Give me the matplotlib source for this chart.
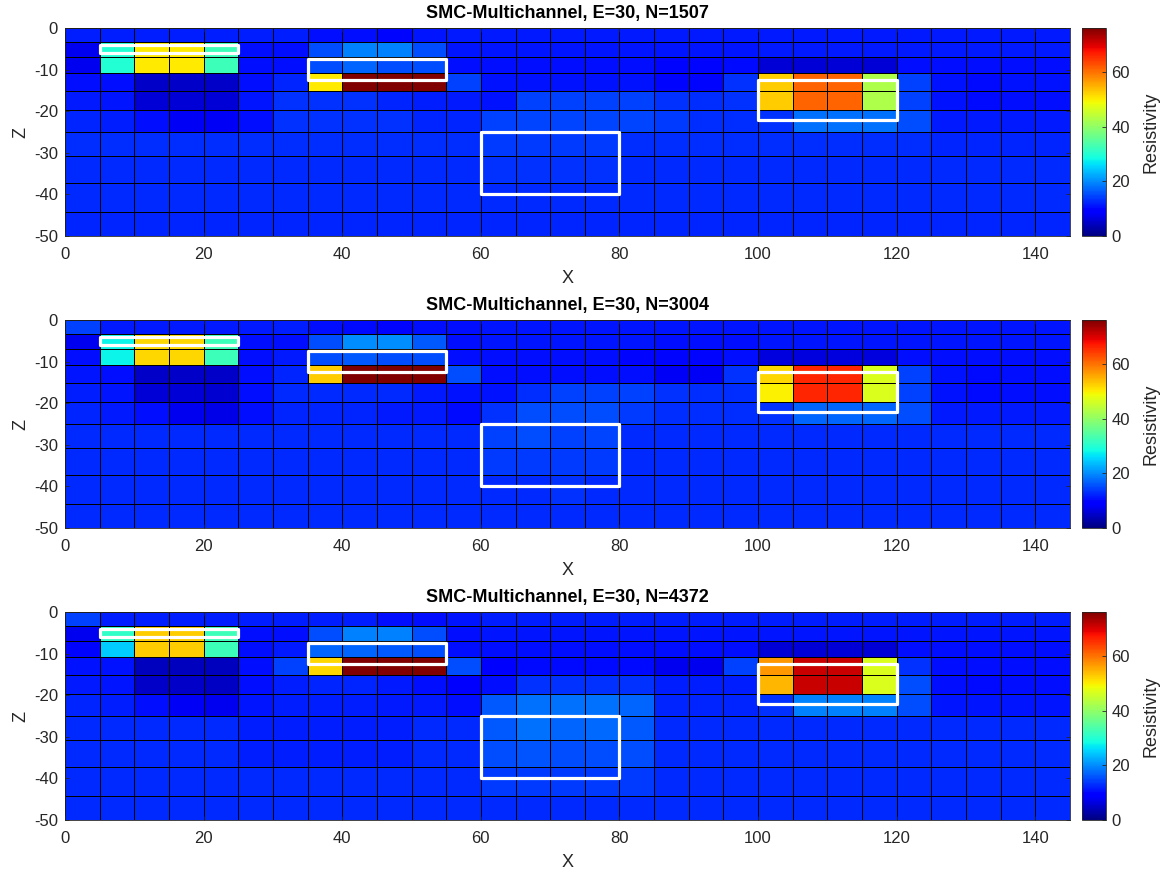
import numpy as np
import matplotlib
matplotlib.use("Agg")
import matplotlib.pyplot as plt
from matplotlib.patches import Rectangle

plt.rcParams['font.family'] = ['Liberation Sans', 'DejaVu Sans']
plt.rcParams['axes.unicode_minus'] = False

# Model mesh (cell edges)
x_edges = [0, 5, 10, 15, 20, 25, 30, 35, 40, 45, 50, 55, 60, 65, 70, 75, 80, 85,
           90, 95, 100, 105, 110, 115, 120, 125, 130, 135, 140, 145]
z_edges = [0, -3.3, -6.9, -10.8, -15.1, -19.8, -25.1, -30.8, -37.3, -44.2, -52.0]

# True anomaly outlines: (x left, x right), (z top, z bottom)
block_x = [(5, 25), (35, 55), (100, 120), (60, 80)]
block_z = [(-4, -6), (-7.5, -12.4), (-12.5, -22.1), (-25, -40)]

energy = 30
n_samples = [1507, 3004, 4372]

# Recovered resistivity per cell, rows from top to bottom
rho_1507 = [
    [11.7, 11.7, 11.7, 11.7, 11.7, 11.7, 11.7, 10.5, 10.5, 10.0, 11.0, 11.4, 11.4, 11.4, 11.4, 11.4, 11.4, 11.4, 11.4, 11.4, 11.4, 11.4, 11.4, 11.4, 11.4, 11.4, 11.4, 11.4, 11.4],
    [7.5, 29.7, 50.2, 50.2, 32.3, 10.5, 10.5, 15.2, 19.0, 19.0, 15.2, 11.0, 11.0, 11.0, 11.0, 11.0, 11.0, 11.0, 11.0, 11.0, 11.4, 11.4, 11.4, 11.4, 11.4, 11.4, 11.4, 11.4, 11.4],
    [7.5, 29.7, 50.2, 50.2, 32.3, 10.5, 10.5, 15.2, 17.1, 15.2, 15.2, 10.5, 10.5, 10.5, 10.5, 10.5, 10.5, 9.9, 9.9, 10.1, 5.9, 5.9, 5.9, 5.9, 10.5, 10.5, 10.5, 10.5, 10.5],
    [10.5, 10.5, 5.0, 5.0, 5.0, 10.5, 12.4, 50.2, 76.0, 76.0, 76.0, 14.3, 10.8, 10.8, 10.8, 10.8, 10.8, 9.9, 9.9, 13.3, 52.7, 61.0, 61.0, 42.7, 14.3, 10.8, 10.1, 10.8, 10.8],
    [11.4, 11.0, 5.9, 5.9, 5.9, 11.0, 13.3, 13.3, 13.3, 12.4, 11.7, 11.4, 10.8, 14.3, 14.3, 14.3, 14.3, 13.3, 12.9, 13.3, 52.7, 61.0, 61.0, 42.7, 14.3, 10.8, 10.1, 10.5, 10.5],
    [12.4, 11.7, 10.5, 8.0, 8.0, 10.5, 13.3, 13.3, 13.3, 13.3, 12.4, 12.4, 14.3, 14.8, 14.8, 14.8, 14.8, 13.7, 12.9, 12.9, 13.3, 18.0, 18.0, 18.0, 15.2, 11.4, 11.4, 11.4, 11.4],
    [12.9, 12.9, 12.9, 12.9, 12.9, 12.9, 12.9, 12.9, 12.9, 12.9, 12.9, 12.9, 13.7, 13.7, 13.7, 13.7, 12.9, 12.9, 12.9, 12.9, 12.9, 12.9, 12.9, 12.9, 12.9, 12.4, 12.4, 12.4, 12.4],
    [12.7, 12.7, 12.7, 12.7, 12.7, 12.7, 12.7, 12.7, 12.7, 12.7, 12.7, 12.7, 13.3, 13.3, 13.3, 13.3, 12.7, 12.7, 12.7, 12.7, 12.7, 12.7, 12.7, 12.7, 12.7, 12.7, 12.7, 12.7, 12.7],
    [12.7, 12.7, 12.7, 12.7, 12.7, 12.7, 12.7, 12.7, 12.7, 12.7, 12.7, 12.7, 12.7, 12.7, 12.7, 12.7, 12.7, 12.7, 12.7, 12.7, 12.7, 12.7, 12.7, 12.7, 12.7, 12.7, 12.7, 12.7, 12.7],
    [12.4, 12.4, 12.4, 12.4, 12.4, 12.4, 12.4, 12.4, 12.4, 12.4, 12.4, 12.4, 12.4, 12.4, 12.4, 12.4, 12.4, 12.4, 12.4, 12.4, 12.4, 12.4, 12.4, 12.4, 12.4, 12.4, 12.4, 12.4, 12.4],
]

rho_3004 = [
    [14.3, 11.4, 11.4, 11.4, 11.4, 11.4, 11.7, 10.5, 10.1, 9.9, 10.5, 10.5, 11.2, 11.2, 11.2, 11.2, 11.2, 11.2, 11.2, 11.2, 11.2, 11.2, 11.2, 11.2, 11.2, 11.2, 11.2, 11.2, 11.2],
    [7.5, 27.7, 51.8, 51.8, 32.3, 10.5, 10.5, 15.2, 20.0, 20.0, 16.1, 10.5, 11.0, 11.0, 11.0, 11.0, 11.0, 10.5, 10.5, 10.5, 11.0, 11.0, 11.0, 11.0, 11.0, 11.0, 11.0, 11.0, 11.0],
    [10.5, 27.7, 51.8, 51.8, 32.3, 10.5, 11.4, 15.2, 16.1, 15.2, 15.2, 10.5, 10.5, 10.5, 10.5, 10.5, 9.9, 9.9, 9.9, 10.5, 6.4, 6.4, 6.4, 6.4, 10.5, 10.5, 10.5, 10.5, 10.5],
    [11.0, 10.5, 5.0, 5.0, 5.0, 10.5, 12.4, 52.7, 76.0, 76.0, 76.0, 15.2, 10.5, 10.5, 10.5, 10.5, 10.5, 8.0, 8.0, 13.3, 51.8, 66.0, 66.0, 46.7, 14.3, 10.8, 10.1, 10.5, 10.5],
    [11.7, 11.0, 5.9, 5.9, 5.4, 10.5, 12.7, 12.7, 12.7, 12.7, 11.4, 10.8, 10.8, 12.9, 14.3, 14.3, 14.3, 13.3, 12.9, 12.9, 49.6, 66.0, 66.0, 46.7, 14.3, 10.8, 10.1, 10.5, 10.5],
    [12.4, 11.4, 10.5, 7.5, 7.0, 10.5, 12.4, 12.4, 12.4, 11.4, 11.4, 10.1, 13.3, 15.2, 15.2, 15.2, 13.7, 12.9, 12.9, 12.9, 13.3, 17.1, 17.1, 17.1, 15.2, 11.4, 11.4, 11.4, 11.4],
    [12.7, 12.7, 12.7, 12.7, 12.7, 12.7, 12.7, 12.7, 12.7, 12.7, 12.7, 12.7, 14.3, 15.2, 14.3, 14.8, 12.7, 12.7, 12.7, 12.7, 12.7, 12.7, 12.7, 12.7, 12.7, 12.7, 12.7, 12.7, 12.7],
    [12.7, 12.7, 12.7, 12.7, 12.7, 12.7, 12.7, 12.7, 12.7, 12.7, 12.7, 12.7, 13.7, 13.7, 13.7, 13.7, 12.7, 12.7, 12.7, 12.7, 12.7, 12.7, 12.7, 12.7, 12.7, 12.7, 12.7, 12.7, 12.7],
    [12.7, 12.7, 12.7, 12.7, 12.7, 12.7, 12.7, 12.7, 12.7, 12.7, 12.7, 12.7, 12.7, 12.7, 13.3, 12.7, 12.7, 12.7, 12.7, 12.7, 12.7, 12.7, 12.7, 12.7, 12.7, 12.7, 12.7, 12.7, 12.7],
    [12.7, 12.7, 12.7, 12.7, 12.7, 12.7, 12.7, 12.7, 12.7, 12.7, 12.7, 12.7, 12.7, 12.7, 12.7, 12.7, 12.7, 12.7, 12.7, 12.7, 12.7, 12.7, 12.7, 12.7, 12.7, 12.7, 12.7, 12.7, 12.7],
]

rho_4372 = [
    [14.3, 11.7, 11.7, 11.7, 11.7, 11.7, 11.7, 11.7, 11.7, 10.5, 10.5, 11.0, 11.7, 11.7, 11.7, 11.7, 11.7, 11.7, 11.7, 11.7, 11.7, 11.7, 11.7, 11.7, 11.7, 11.7, 11.7, 11.7, 11.7],
    [7.5, 31.0, 52.7, 52.7, 32.3, 10.5, 10.5, 15.2, 19.0, 19.0, 15.2, 10.5, 11.0, 11.0, 11.0, 11.0, 11.0, 11.0, 11.0, 11.0, 11.0, 11.0, 11.0, 11.0, 11.0, 11.0, 11.0, 11.0, 11.0],
    [9.9, 24.7, 52.7, 52.7, 32.3, 10.5, 11.4, 17.1, 17.1, 16.1, 15.2, 10.5, 10.5, 10.5, 10.5, 10.5, 10.5, 10.5, 10.5, 10.5, 5.9, 5.9, 5.9, 5.9, 10.5, 10.5, 10.5, 10.5, 10.5],
    [10.8, 10.8, 4.2, 4.2, 4.2, 10.5, 14.3, 51.8, 76.0, 76.0, 76.0, 15.2, 9.0, 10.1, 10.1, 10.1, 10.1, 7.5, 7.5, 14.3, 56.8, 71.0, 71.0, 46.7, 13.3, 10.5, 10.5, 10.5, 10.5],
    [11.4, 11.0, 5.0, 5.0, 4.7, 10.5, 11.7, 12.4, 12.4, 11.4, 10.5, 9.0, 10.5, 13.3, 13.3, 13.3, 13.3, 11.7, 11.7, 11.7, 54.4, 71.0, 71.0, 46.7, 15.2, 10.5, 10.1, 10.5, 10.5],
    [12.4, 11.7, 10.5, 8.0, 7.5, 11.0, 11.7, 11.7, 11.7, 11.4, 11.4, 10.5, 16.1, 18.0, 18.0, 18.0, 17.1, 12.4, 12.4, 12.4, 13.3, 19.0, 19.0, 19.0, 15.2, 11.0, 11.0, 11.0, 11.0],
    [12.7, 12.7, 12.7, 12.7, 12.7, 11.7, 11.7, 11.7, 11.7, 11.7, 12.7, 12.7, 16.1, 18.0, 17.1, 17.5, 16.1, 12.7, 12.7, 12.7, 12.7, 12.7, 12.7, 12.7, 12.7, 12.7, 12.7, 12.7, 12.7],
    [12.7, 12.7, 12.7, 12.7, 12.7, 11.7, 11.7, 11.7, 11.7, 11.7, 12.7, 12.7, 15.2, 15.8, 15.2, 15.2, 15.2, 12.7, 12.7, 12.7, 12.7, 12.7, 12.7, 12.7, 12.7, 12.7, 12.7, 12.7, 12.7],
    [12.7, 12.7, 12.7, 12.7, 12.7, 12.7, 12.7, 12.7, 12.7, 12.7, 12.7, 12.7, 13.7, 13.7, 13.7, 13.7, 13.7, 12.7, 12.7, 12.7, 12.7, 12.7, 12.7, 12.7, 12.7, 12.7, 12.7, 12.7, 12.7],
    [12.7, 12.7, 12.7, 12.7, 12.7, 12.7, 12.7, 12.7, 12.7, 12.7, 12.7, 12.7, 12.7, 12.7, 12.7, 12.7, 12.7, 12.7, 12.7, 12.7, 12.7, 12.7, 12.7, 12.7, 12.7, 12.7, 12.7, 12.7, 12.7],
]

panels = [rho_1507, rho_3004, rho_4372]
x_ticks = [0, 20, 40, 60, 80, 100, 120, 140]
z_ticks = [-50, -40, -30, -20, -10, 0]
cbar_ticks = [0, 20, 40, 60]
rho_max = 76

W, H = 1164, 874
fig = plt.figure(figsize=(W / 100, H / 100), dpi=100)

ax_left, ax_right = 65, 1070
tops = [28, 320, 612]
ax_h = 208
cb_left, cb_w = 1082, 24
text_col = '#262626'

for rho, n, top in zip(panels, n_samples, tops):
    ax = fig.add_axes([ax_left / W, 1 - (top + ax_h) / H,
                       (ax_right - ax_left) / W, ax_h / H])
    mesh = ax.pcolormesh(x_edges, z_edges, np.array(rho), cmap='jet',
                         vmin=0, vmax=rho_max, edgecolors='k', linewidth=0.6)
    for (x0, x1), (zt, zb) in zip(block_x, block_z):
        ax.add_patch(Rectangle((x0, zb), x1 - x0, zt - zb, fill=False,
                               edgecolor='white', linewidth=2.3,
                               joinstyle='round', zorder=3))
    ax.set_xlim(0, 145)
    ax.set_ylim(-50, 0)
    ax.set_xticks(x_ticks)
    ax.set_yticks(z_ticks)
    ax.tick_params(direction='in', length=3, width=0.6, labelsize=12,
                   colors=text_col, top=True, right=True, labeltop=False,
                   labelright=False)
    ax.tick_params(axis='x', pad=8)
    ax.tick_params(axis='y', pad=5)
    for sp in ax.spines.values():
        sp.set_color(text_col)
        sp.set_linewidth(0.6)
    ax.set_xlabel('X', fontsize=13, color=text_col, labelpad=6)
    ax.set_ylabel('Z', fontsize=13, color=text_col, labelpad=3)
    ax.set_title(f'SMC-Multichannel, E={energy}, N={n}', fontsize=13,
                 fontweight='bold', pad=7)

    cax = fig.add_axes([cb_left / W, 1 - (top + ax_h) / H, cb_w / W, ax_h / H])
    cb = fig.colorbar(mesh, cax=cax)
    cb.set_ticks(cbar_ticks)
    cb.ax.tick_params(direction='in', length=3, width=0.6, labelsize=12,
                      colors=text_col, pad=4)
    cb.outline.set_edgecolor(text_col)
    cb.outline.set_linewidth(0.6)
    cb.set_label('Resistivity', fontsize=13, color=text_col, labelpad=9)

fig.savefig('out.png', dpi=100)
